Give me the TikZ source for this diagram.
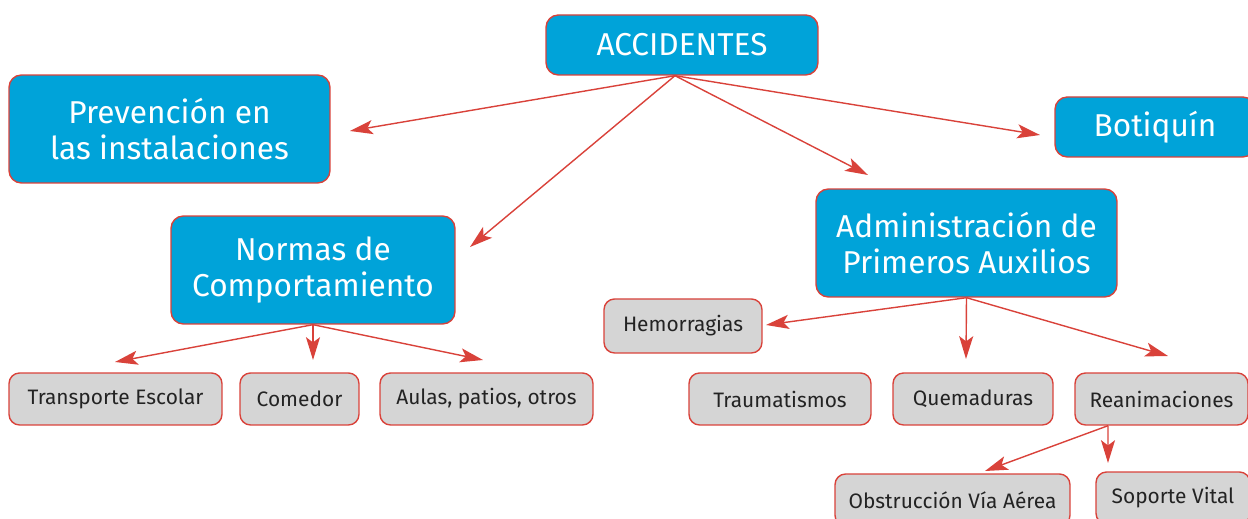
\documentclass[tikz,border=0pt]{standalone}
\usepackage{fontspec}
\setmainfont{Fira Sans}
\usetikzlibrary{arrows.meta}
\definecolor{cajaazul}{RGB}{0,163,217}
\definecolor{bordeRojo}{RGB}{217,66,58}
\definecolor{cajagris}{RGB}{213,213,213}
\definecolor{textogris}{RGB}{35,35,35}

\begin{document}
\begin{tikzpicture}[x=0.02cm,y=-0.02cm]
\path [use as bounding box] (0,0) rectangle (1248,519);
\tikzstyle{grande} = [draw=bordeRojo, fill=cajaazul, line width=0.8pt, rounded corners=7pt, text=white, align=center, font=\fontsize{18}{21}\selectfont]
\tikzstyle{chica} = [draw=bordeRojo, fill=cajagris, line width=0.8pt, rounded corners=6pt, text=textogris, minimum height=1.04cm, font=\fontsize{11.9}{14}\selectfont]
\tikzstyle{flecha} = [draw=bordeRojo, line width=0.8pt, -{Stealth[length=13pt,width=8pt,inset=3pt]}]
% cajas principales
\node[grande, minimum width=5.44cm, minimum height=1.2cm] (acc) at (682,45) {ACCIDENTES};
\node[grande, minimum width=6.42cm, minimum height=2.16cm] (prev) at (169.5,129) {Prevención en\\las instalaciones};
\node[grande, minimum width=4cm, minimum height=1.2cm] (boti) at (1155,127) {Botiquín};
\node[grande, minimum width=5.68cm, minimum height=2.16cm] (normas) at (313,270) {Normas de\\Comportamiento};
\node[grande, minimum width=6.02cm, minimum height=2.16cm] (admin) at (966.5,243) {Administración de\\Primeros Auxilios};
% cajas grises
\node[chica, minimum width=3.16cm, minimum height=1.08cm] (hemo) at (683,326) {Hemorragias};
\node[chica, minimum width=4.26cm] (trans) at (115.5,399) {Transporte Escolar};
\node[chica, minimum width=2.38cm] (comedor) at (299.5,399) {Comedor};
\node[chica, minimum width=4.26cm] (aulas) at (486.5,399) {Aulas, patios, otros};
\node[chica, minimum width=3.64cm] (trauma) at (780,399) {Traumatismos};
\node[chica, minimum width=3.2cm] (quem) at (973,399) {Quemaduras};
\node[chica, minimum width=3.46cm] (rean) at (1161.5,399) {Reanimaciones};
\node[chica, minimum width=4.7cm] (obst) at (952.5,500) {Obstrucción Vía Aérea};
\node[chica, minimum width=3.08cm] (sop) at (1173,498) {Soporte Vital};
% puntas de flecha
\coordinate (tprev) at (350,131);
\coordinate (tnormas) at (470,247);
\coordinate (tadmin) at (868,175);
\coordinate (tboti) at (1040,135);
\coordinate (ttrans) at (115,362);
\coordinate (tcomedor) at (313,360);
\coordinate (taulas) at (483,360);
\coordinate (themo) at (766,325);
\coordinate (tquem) at (966,359);
\coordinate (trean) at (1168,356);
\coordinate (tobst) at (985,471);
\coordinate (tsop) at (1108,463);
\foreach \t in {tprev,tnormas,tadmin,tboti}
  \draw[flecha] ([xshift=-0.14cm]acc.south) -- (\t);
\foreach \t in {ttrans,tcomedor,taulas}
  \draw[flecha] (normas.south) -- (\t);
\foreach \t in {themo,tquem,trean}
  \draw[flecha] (admin.south) -- (\t);
\foreach \t in {tobst,tsop}
  \draw[flecha] ([xshift=-1.07cm]rean.south) -- (\t);
\end{tikzpicture}
\end{document}
